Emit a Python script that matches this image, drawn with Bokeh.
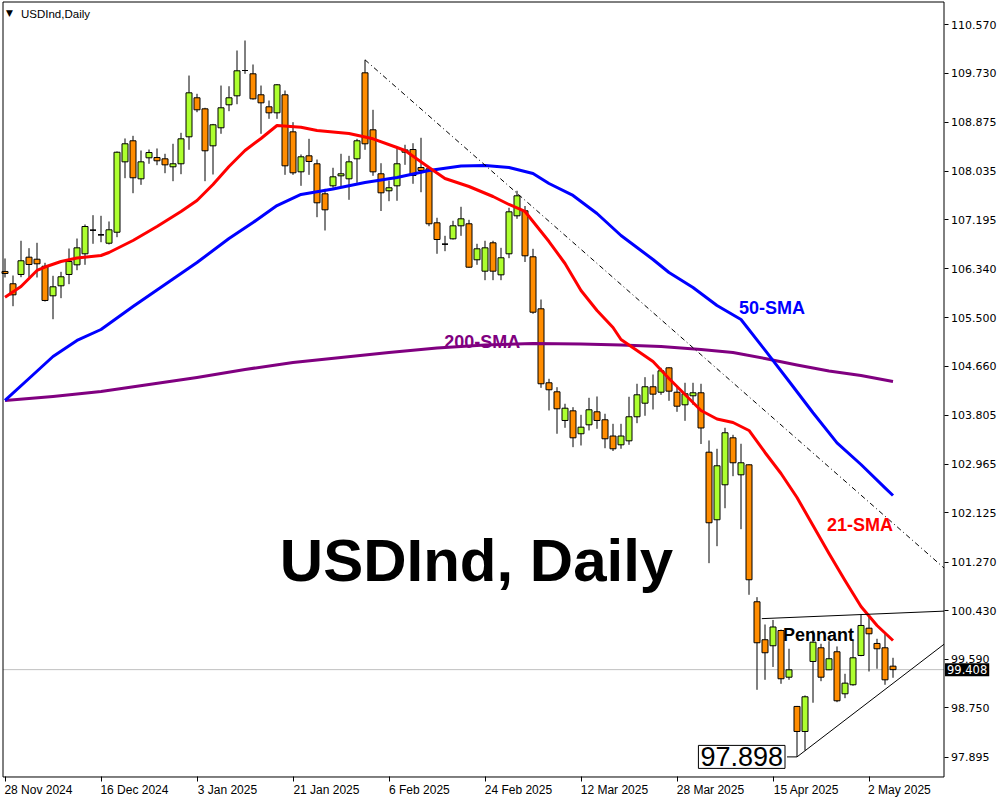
from bokeh.plotting import figure
from bokeh.models import Range1d, FixedTicker, PrintfTickFormatter, Label, ColumnDataSource
from bokeh.embed import file_html
from bokeh.resources import INLINE

# ---- daily OHLC, bar index 0 = 28 Nov 2024 ----
opens = [106.297, 106.084, 106.245, 106.544, 106.509, 106.388, 105.876, 106.049, 106.245, 106.412,
         106.603, 107.011, 106.931, 106.786, 106.976, 108.194, 108.558, 107.900, 108.264, 108.269,
         108.246, 108.108, 108.160, 108.627, 109.302, 109.111, 108.471, 108.783, 109.181, 109.336,
         109.774, 109.717, 109.354, 109.146, 109.042, 109.354, 108.713, 108.021, 108.298, 108.160,
         107.641, 107.779, 107.952, 107.900, 108.246, 109.734, 108.748, 107.987, 107.693, 107.779,
         108.360, 108.407, 108.096, 108.073, 107.139, 106.769, 106.862, 107.087, 107.122, 106.499,
         106.302, 106.793, 106.239, 106.603, 107.260, 107.347, 106.551, 105.651, 104.371, 104.215,
         103.719, 103.886, 103.489, 103.644, 103.869, 103.731, 103.450, 103.298, 103.367, 103.783,
         104.018, 104.302, 104.208, 104.630, 104.208, 103.990, 104.146, 104.198, 103.170, 102.001,
         102.606, 103.419, 102.779, 102.952, 100.582, 99.925, 99.821, 100.085, 99.277, 98.771,
         98.338, 99.549, 99.786, 99.405, 99.717, 98.990, 99.146, 99.653, 100.125, 99.861,
         99.786, 99.468]
highs = [106.522, 106.227, 106.828, 106.700, 106.793, 106.447, 106.222, 106.291, 106.694, 106.867,
         107.110, 107.271, 107.260, 107.162, 108.373, 108.598, 108.644, 108.390, 108.407, 108.425,
         108.333, 108.506, 108.696, 109.687, 109.371, 109.129, 108.850, 109.514, 109.502, 110.120,
         110.293, 109.878, 109.514, 109.255, 109.540, 109.428, 108.880, 108.321, 108.592, 108.234,
         107.727, 108.091, 108.333, 108.298, 108.592, 109.959, 109.094, 108.170, 107.871, 108.450,
         108.489, 108.516, 108.610, 108.101, 107.226, 106.914, 107.174, 107.416, 107.191, 106.776,
         106.828, 106.828, 106.706, 107.399, 107.693, 107.430, 106.689, 105.812, 104.440, 104.295,
         104.008, 103.949, 103.817, 104.111, 104.134, 103.835, 103.661, 103.661, 104.129, 104.354,
         104.468, 104.514, 104.630, 104.640, 104.295, 104.371, 104.371, 104.354, 103.373, 103.229,
         103.592, 103.471, 103.316, 102.960, 100.662, 100.189, 100.267, 100.100, 99.769, 98.780,
         98.961, 100.085, 99.855, 99.900, 99.809, 99.336, 99.912, 100.362, 100.362, 99.942,
         100.028, 99.613]
lows = [106.193, 105.696, 106.198, 106.193, 106.193, 105.777, 105.471, 105.835, 106.077, 106.319,
        106.412, 106.776, 106.803, 106.764, 106.890, 107.911, 107.651, 107.796, 108.160, 108.136,
        107.997, 107.859, 107.980, 108.402, 109.053, 107.859, 107.975, 108.679, 109.070, 109.191,
        109.717, 109.270, 108.679, 108.938, 108.938, 107.969, 107.969, 107.779, 107.969, 107.236,
        107.006, 107.745, 107.745, 107.537, 107.831, 108.402, 107.952, 107.343, 107.513, 107.520,
        108.142, 107.814, 107.668, 107.080, 106.603, 106.648, 106.850, 106.914, 106.360, 106.412,
        106.146, 106.146, 106.146, 106.527, 107.208, 106.461, 105.565, 104.284, 103.892, 103.489,
        103.592, 103.257, 103.286, 103.546, 103.575, 103.239, 103.191, 103.229, 103.298, 103.672,
        103.800, 103.909, 104.163, 104.059, 103.869, 103.713, 103.990, 103.312, 101.250, 101.544,
        102.201, 102.755, 101.838, 100.703, 99.059, 99.232, 99.454, 99.163, 99.232, 97.898,
        98.009, 98.835, 99.208, 99.400, 98.845, 98.914, 99.130, 99.640, 99.376, 99.423,
        99.146, 99.267]
closes = [106.262, 105.893, 106.482, 106.418, 106.430, 105.795, 106.032, 106.205, 106.469, 106.706,
          107.075, 107.011, 106.931, 107.018, 108.360, 108.506, 107.918, 108.194, 108.355, 108.212,
          108.142, 108.160, 108.592, 109.388, 109.094, 108.385, 108.835, 109.129, 109.302, 109.769,
          109.774, 109.284, 109.215, 109.042, 109.527, 108.125, 108.004, 108.281, 108.200, 107.485,
          107.364, 107.935, 107.987, 108.194, 108.558, 108.506, 108.021, 107.658, 107.745, 108.160,
          108.400, 107.957, 108.044, 107.122, 106.850, 106.769, 107.087, 107.208, 106.371, 106.689,
          106.706, 106.302, 106.534, 107.329, 107.606, 106.568, 105.592, 104.354, 104.250, 103.921,
          103.931, 103.419, 103.603, 103.904, 103.719, 103.402, 103.229, 103.450, 103.783, 104.163,
          104.302, 104.174, 104.578, 104.226, 103.966, 104.181, 104.198, 103.589, 101.949, 102.935,
          103.506, 102.987, 102.987, 100.963, 99.873, 99.700, 100.146, 99.250, 99.405, 98.338,
          98.938, 99.883, 99.277, 99.596, 98.869, 99.174, 99.613, 100.172, 100.028, 99.769,
          99.232, 99.408]

# ---- moving averages (bar index, value) ----
sma21_x = [0, 2, 4, 5, 7, 9, 12, 13, 16, 19, 22, 24, 26, 28, 30, 32, 34, 37, 39, 43,
           46, 49, 50, 53, 55, 58, 61, 63, 65, 68, 70, 72, 74, 76, 77, 79, 81, 83, 85, 87,
           89, 91, 93, 95, 97, 99, 101, 103, 105, 107, 109, 111]
sma21_y = [105.852, 106.037, 106.314, 106.374, 106.469, 106.530, 106.573, 106.625, 106.833, 107.075,
           107.335, 107.525, 107.802, 108.113, 108.390, 108.598, 108.822, 108.793, 108.736, 108.684,
           108.592, 108.442, 108.390, 108.096, 107.905, 107.767, 107.594, 107.456, 107.335, 106.815,
           106.435, 105.968, 105.622, 105.328, 105.120, 104.930, 104.739, 104.445, 104.168, 103.892,
           103.745, 103.684, 103.546, 103.165, 102.802, 102.386, 101.902, 101.418, 100.950, 100.501,
           100.172, 99.912]
sma50_x = [0, 3, 6, 9, 12, 16, 20, 24, 28, 31, 34, 37, 41, 45, 49, 53, 57, 60, 63, 66,
           68, 71, 74, 77, 79, 81, 83, 86, 89, 92, 95, 98, 101, 104, 107, 110, 111]
sma50_y = [104.065, 104.445, 104.826, 105.103, 105.293, 105.691, 106.072, 106.452, 106.867, 107.144,
           107.438, 107.629, 107.724, 107.836, 107.923, 108.044, 108.122, 108.130, 108.096, 107.992,
           107.819, 107.612, 107.300, 106.919, 106.712, 106.504, 106.279, 106.020, 105.708, 105.466,
           104.935, 104.398, 103.852, 103.331, 102.957, 102.554, 102.421]
sma200_x = [0, 6, 12, 18, 24, 30, 36, 42, 48, 54, 60, 66, 72, 77, 82, 87, 91, 95, 99, 103, 107, 111]
sma200_y = [104.065, 104.134, 104.220, 104.341, 104.463, 104.601, 104.722, 104.809, 104.895, 104.973,
            105.025, 105.051, 105.042, 105.025, 104.999, 104.947, 104.895, 104.791, 104.679, 104.575,
            104.497, 104.393]

# ---- chart window (bars / prices visible inside the frame) ----
view_left, view_right = -0.25, 117.375
view_bottom, view_top = 97.5503, 110.9593

# ---- drawn objects ----
trend_x = [45, view_right]
trend_y = [109.959, 101.167]
pennant_top_x = [94.6, view_right]
pennant_top_y = [100.29, 100.42]
pennant_low_x = [99, view_right]
pennant_low_y = [97.898, 99.847]
last_price = 99.408
swing_low = 97.898

# ---- axes ----
date_ticks = [0, 12, 24, 36, 48, 60, 72, 84, 96, 108]
date_labels = ["28 Nov 2024", "16 Dec 2024", "3 Jan 2025", "21 Jan 2025", "6 Feb 2025",
               "24 Feb 2025", "12 Mar 2025", "28 Mar 2025", "15 Apr 2025", "2 May 2025"]
price_ticks = [110.570, 109.730, 108.875, 108.035, 107.195, 106.340, 105.500, 104.660,
               103.805, 102.965, 102.125, 101.270, 100.430, 99.590, 98.750, 97.895]

GREEN = "#ADFF2F"
ORANGE = "#FF8C00"

n = len(closes)
xs = list(range(n))
src = ColumnDataSource(dict(
    x=xs,
    high=highs,
    low=lows,
    top=[max(o, c) for o, c in zip(opens, closes)],
    bottom=[min(o, c) for o, c in zip(opens, closes)],
    fill=[GREEN if c > o else ORANGE for o, c in zip(opens, closes)],
))
doji_idx = [i for i in xs if abs(opens[i] - closes[i]) < 0.002]
doji_src = ColumnDataSource(dict(
    x0=[i - 0.375 for i in doji_idx],
    x1=[i + 0.375 for i in doji_idx],
    y=[closes[i] for i in doji_idx],
))

# the frame fills the whole canvas; axes are pinned at the chart window's edges
p = figure(width=1000, height=800,
           x_range=Range1d(-0.5625, 124.4375), y_range=Range1d(97.1437, 110.9853),
           y_axis_location="right", output_backend="svg", toolbar_location=None,
           title=None, min_border=0)
p.background_fill_color = "white"
p.border_fill_color = "white"
p.grid.visible = False
p.outline_line_color = None

# price axis (right)
yax = p.yaxis[0]
yax.fixed_location = view_right
yax.ticker = FixedTicker(ticks=price_ticks)
yax.formatter = PrintfTickFormatter(format="%.3f")
yax.major_tick_out = 4
yax.major_tick_in = 0
yax.minor_tick_line_color = None
yax.major_label_standoff = 3
yax.major_label_text_font = "DejaVu Sans"
yax.major_label_text_font_size = "11px"
yax.major_label_text_color = "#000000"
yax.axis_line_color = None

# date axis: minor ticks mark the bars, labels sit to their right
xax = p.xaxis[0]
xax.fixed_location = view_bottom
label_pos = [round(t + 0.38 * len(s), 2) for t, s in zip(date_ticks, date_labels)]
xax.ticker = FixedTicker(ticks=label_pos, minor_ticks=date_ticks)
xax.major_label_overrides = {pos: s for pos, s in zip(label_pos, date_labels)}
xax.major_tick_line_color = None
xax.major_tick_out = 5
xax.major_tick_in = 0
xax.minor_tick_out = 5
xax.minor_tick_in = 0
xax.minor_tick_line_color = "black"
xax.major_label_standoff = 1
xax.major_label_text_font = "Liberation Sans"
xax.major_label_text_font_size = "12px"
xax.major_label_text_color = "#000000"
xax.axis_line_color = None

# last price line
p.segment(x0=[view_left], y0=[last_price], x1=[view_right], y1=[last_price],
          line_color="#C0C0C0", line_width=1)

# candles
p.segment(x0="x", y0="high", x1="x", y1="low", line_color="black", line_width=1, source=src)
p.vbar(x="x", width=0.75, top="top", bottom="bottom", fill_color="fill",
       line_color="black", line_width=1, source=src)
p.segment(x0="x0", y0="y", x1="x1", y1="y", line_color="black", line_width=1, source=doji_src)

# moving averages
p.line(sma200_x, sma200_y, line_color="#800080", line_width=3, line_join="round")
p.line(sma50_x, sma50_y, line_color="#0000FF", line_width=3, line_join="round")
p.line(sma21_x, sma21_y, line_color="#FF0000", line_width=3, line_join="round")

# trend line and pennant
p.line(trend_x, trend_y, line_color="black", line_width=1, line_dash="5 3 1 3")
p.line(pennant_top_x, pennant_top_y, line_color="black", line_width=1)
p.line(pennant_low_x, pennant_low_y, line_color="black", line_width=1)
p.segment(x0=[97.75], y0=[swing_low], x1=[99], y1=[swing_low], line_color="black", line_width=1)

# chart window border
p.quad(left=[view_left], right=[view_right], bottom=[view_bottom], top=[view_top],
       fill_color=None, line_color="black", line_width=1)


def add_text(x, y, text, color="black", size="18px", style="bold", font="Liberation Sans",
             align="left", baseline="middle", **kw):
    p.add_layout(Label(x=x, y=y, text=text, text_color=color, text_font=font,
                       text_font_size=size, text_font_style=style, text_align=align,
                       text_baseline=baseline, **kw))


# chart caption
add_text(58.94, 101.296, "USDInd, Daily", size="60px", align="center")
add_text(2.0, 110.760, "USDInd,Daily", size="11.5px", style="normal")
add_text(0.56, 110.770, "\u25BC", size="9px", style="normal", font="DejaVu Sans", align="center")

# indicator / pattern labels
add_text(91.75, 105.665, "50-SMA", color="#0000FF")
add_text(102.75, 101.902, "21-SMA", color="#FF0000")
add_text(54.9, 105.077, "200-SMA", color="#800080")
add_text(97.25, 100.0, "Pennant", color="black")

# swing low box
add_text(97.5, swing_low, f"{swing_low:.3f}", size="27px", style="normal", align="right",
         background_fill_color="white", border_line_color="black",
         border_line_width=1, padding=2)

# last price tag on the price scale
add_text(117.5, last_price, f"{last_price:.3f}", color="white", size="11.5px", style="normal",
         font="DejaVu Sans", background_fill_color="black", padding=2)

open("out.html", "w").write(file_html(p, INLINE))
